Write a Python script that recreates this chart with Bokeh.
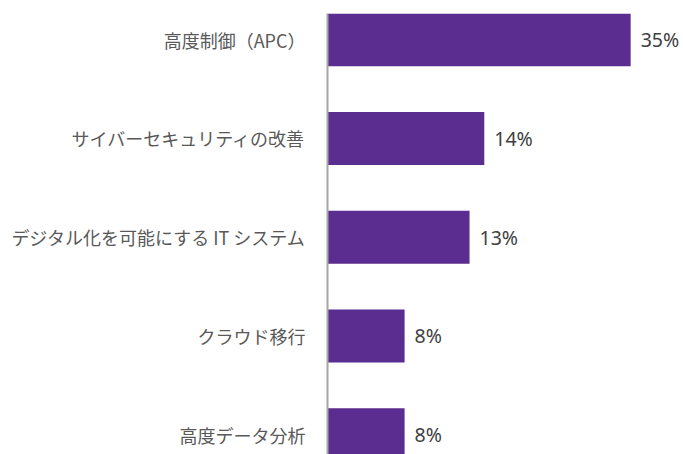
from bokeh.plotting import figure
from bokeh.models import Range1d, FixedTicker, ColumnDataSource
from bokeh.core.properties import value
from bokeh.embed import file_html
from bokeh.resources import INLINE

categories = ["高度制御（APC）", "サイバーセキュリティの改善", "デジタル化を可能にする IT システム", "クラウド移行", "高度データ分析"]
# bar lengths as drawn in the picture (in % units of the first bar)
bar_lengths = [35, 18.1, 16.4, 8.9, 8.9]
value_labels = ["35%", "14%", "13%", "8%", "8%"]

positions = list(range(len(categories)))

src = ColumnDataSource(dict(y=positions, right=bar_lengths, lab=value_labels))

p = figure(width=683, height=454, output_backend="svg", toolbar_location=None,
           x_range=Range1d(0, 41.1), y_range=Range1d(4.201, -0.266),
           min_border_left=327, min_border_right=0, min_border_top=13, min_border_bottom=0)

p.hbar(y="y", right="right", left=0, height=0.537, source=src, color="#5C2D91", line_color=None)
p.text(x="right", y="y", text="lab", source=src, x_offset=10, text_baseline="middle",
       text_align="left", text_font=value("Noto Sans"), text_font_size="19.5px", text_color="#404040")

p.xaxis.visible = False
p.xgrid.visible = False
p.ygrid.visible = False
p.outline_line_color = None

ya = p.yaxis[0]
ya.ticker = FixedTicker(ticks=positions)
ya.major_label_overrides = {i: c for i, c in zip(positions, categories)}
ya.major_tick_in = 0
ya.major_tick_out = 0
ya.minor_tick_in = 0
ya.minor_tick_out = 0
ya.axis_line_color = "#A6A6A6"
ya.axis_line_width = 2
ya.major_label_standoff = 22
ya.major_label_text_font = "Noto Sans CJK JP"
ya.major_label_text_font_size = "18px"
ya.major_label_text_color = "#595959"

open("out.html", "w").write(file_html(p, INLINE))
